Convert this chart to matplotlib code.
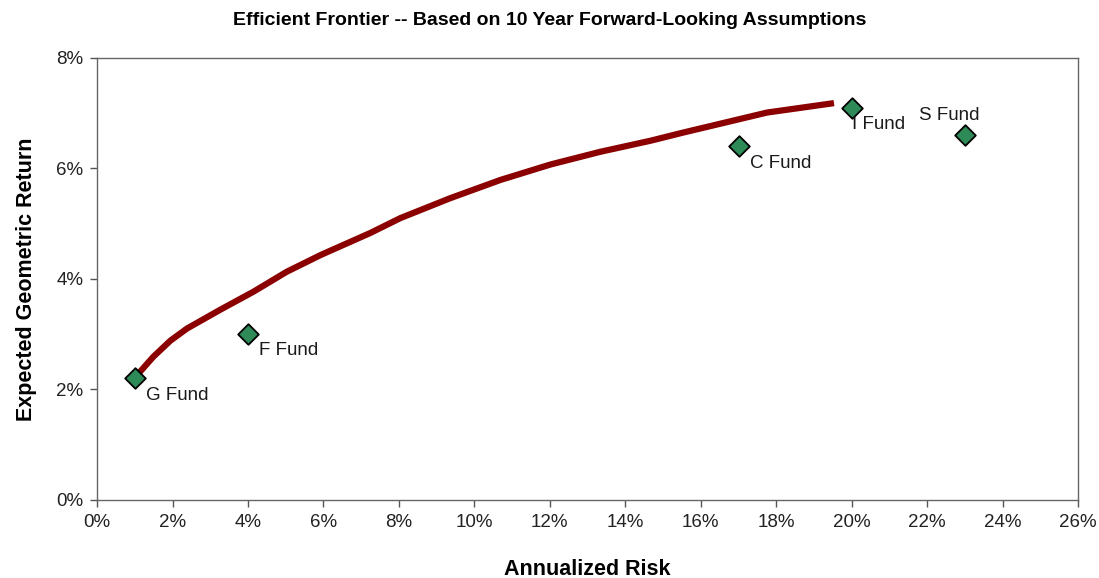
import matplotlib
matplotlib.use("Agg")
import matplotlib.pyplot as plt
from matplotlib.ticker import PercentFormatter, MultipleLocator

plt.rcParams['font.family'] = ['Liberation Sans', 'DejaVu Sans']

# frontier curve (risk, return)
frontier_risk = [0.0100, 0.0114, 0.0149, 0.0194, 0.0238, 0.0326, 0.0415, 0.0503,
                 0.0592, 0.0724, 0.0804, 0.0936, 0.1069, 0.1202, 0.1334, 0.1467,
                 0.1555, 0.1776, 0.1953]
frontier_ret = [0.0220, 0.0232, 0.0259, 0.0288, 0.0310, 0.0344, 0.0377, 0.0413,
                0.0443, 0.0483, 0.0510, 0.0546, 0.0579, 0.0607, 0.0630, 0.0650,
                0.0665, 0.0701, 0.0718]

# individual funds
fund_names = ['G Fund', 'F Fund', 'C Fund', 'I Fund', 'S Fund']
fund_risk = [0.010, 0.040, 0.170, 0.200, 0.230]
fund_ret = [0.022, 0.030, 0.064, 0.071, 0.066]
label_offsets = [(8, -6), (8, -6), (8, -6), (0, -6), (-33, 20)]

fig = plt.figure(figsize=(10.99, 5.78), dpi=100)
ax = fig.add_axes([0.0883, 0.135, 0.8927, 0.765])

ax.plot(frontier_risk, frontier_ret, color='#8b0000', linewidth=4.5,
        solid_capstyle='butt', solid_joinstyle='round', zorder=2)
ax.scatter(fund_risk, fund_ret, marker='D', s=110, color='#2e8b57',
           edgecolor='black', linewidth=1.3, zorder=3)

for name, xr, yr, off in zip(fund_names, fund_risk, fund_ret, label_offsets):
    ax.annotate(name, (xr, yr), xytext=off, textcoords='offset points',
                ha='left', va='top', fontsize=13.5, color='#1a1a1a')

ax.set_xlim(0, 0.26)
ax.set_ylim(0, 0.08)
ax.xaxis.set_major_locator(MultipleLocator(0.02))
ax.yaxis.set_major_locator(MultipleLocator(0.02))
ax.xaxis.set_major_formatter(PercentFormatter(1.0, decimals=0))
ax.yaxis.set_major_formatter(PercentFormatter(1.0, decimals=0))
ax.tick_params(direction='out', length=5, width=1, color='#555555',
               labelsize=13.5, labelcolor='#222222', pad=5)

for s in ax.spines.values():
    s.set_color('#666666')
    s.set_linewidth(1)

ax.set_xlabel('Annualized Risk', fontsize=15.5, fontweight='bold', labelpad=20)
ax.set_ylabel('Expected Geometric Return', fontsize=15.5, fontweight='bold', labelpad=14)
fig.suptitle('Efficient Frontier -- Based on 10 Year Forward-Looking Assumptions',
             fontsize=14, fontweight='bold', y=0.98)

fig.savefig('out.png', dpi=100)
